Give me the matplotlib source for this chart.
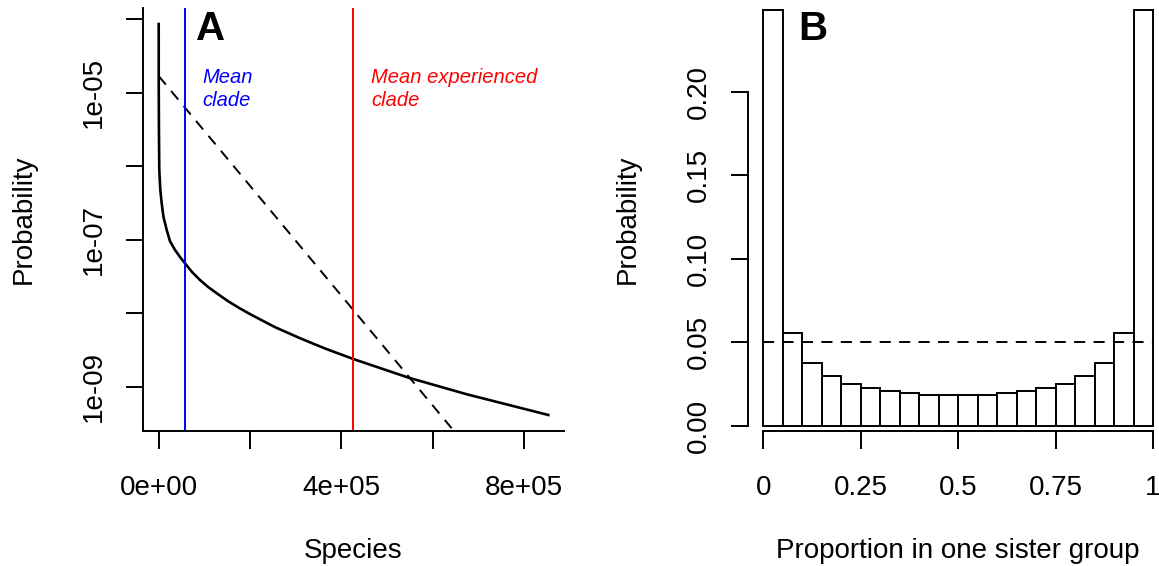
import numpy as np
import matplotlib.pyplot as plt
from matplotlib.ticker import NullLocator

plt.rcParams['font.family'] = ['Liberation Sans', 'DejaVu Sans']
plt.rcParams['lines.scale_dashes'] = False

# Panel A - clade size distribution
species = [1, 100, 500, 1300, 3500, 6560, 10500, 17500, 24700, 35700, 46600,
           57500, 72900, 90400, 107900, 126900, 151600, 177900, 203500, 254500,
           309200, 364000, 425800, 546200, 673900, 852500]
prob = [8.63e-5, 1.26e-5, 3.16e-6, 8.9e-7, 4.79e-7, 3.13e-7, 2.04e-7, 1.36e-7,
        9.55e-8, 7.26e-8, 5.82e-8, 4.78e-8, 3.64e-8, 2.83e-8, 2.28e-8, 1.87e-8,
        1.46e-8, 1.16e-8, 9.46e-9, 6.46e-9, 4.57e-9, 3.31e-9, 2.38e-9, 1.33e-9,
        7.89e-10, 4.12e-10]
exp_species = [0, 641000]
exp_prob = [1.69e-5, 2.72e-10]
mean_clade = 57500
mean_exp_clade = 425800
a_xticks = [0, 2e5, 4e5, 6e5, 8e5]
a_xticklabels = ['0e+00', '', '4e+05', '', '8e+05']
a_yticks = [1e-4, 1e-5, 1e-6, 1e-7, 1e-8, 1e-9]
a_yticklabels = ['', '1e-05', '', '1e-07', '', '1e-09']

# Panel B - proportion in one sister group
bin_edges = np.linspace(0, 1, 21)
freq = [0.249, 0.0557, 0.0378, 0.0298, 0.0253, 0.0227, 0.0209, 0.0197, 0.0187, 0.0187,
        0.0187, 0.0187, 0.0197, 0.0209, 0.0227, 0.0253, 0.0298, 0.0378, 0.0557, 0.249]
uniform = 0.05
b_xticks = [0, 0.25, 0.5, 0.75, 1]
b_xticklabels = ['0', '0.25', '0.5', '0.75', '1']
b_yticks = [0, 0.05, 0.10, 0.15, 0.20]
b_yticklabels = ['0.00', '0.05', '0.10', '0.15', '0.20']

W, H = 1159, 566
fig = plt.figure(figsize=(W / 100, H / 100), dpi=100)

def box(x0, y0, x1, y1):
    return [x0 / W, 1 - y1 / H, (x1 - x0) / W, (y1 - y0) / H]

lw = 1.4
fs = 20

#%% A
ax = fig.add_axes(box(142.7, 8, 564, 430.7))
ax.plot(species, prob, color='black', lw=1.9, solid_joinstyle='round')
ax.plot(exp_species, exp_prob, color='black', lw=1.4, dashes=(8, 6))
ax.axvline(mean_clade, color='#0000ff', lw=1.4)
ax.axvline(mean_exp_clade, color='#ff0000', lw=1.4)
ax.set_yscale('log')
ax.set_xlim(-35010, 886870)
ax.set_ylim(10 ** -9.599, 10 ** -3.846)
ax.set_xticks(a_xticks)
ax.set_xticklabels(a_xticklabels)
ax.set_yticks(a_yticks)
ax.set_yticklabels(a_yticklabels, rotation=90, va='center')
ax.yaxis.set_minor_locator(NullLocator())
for s in ['top', 'right']:
    ax.spines[s].set_visible(False)
for s in ['left', 'bottom']:
    ax.spines[s].set_linewidth(lw)
ax.tick_params(axis='x', length=12.6, width=lw, labelsize=fs, pad=19)
ax.tick_params(axis='y', length=12.6, width=lw, labelsize=fs, pad=13.5)
ax.set_xlabel('Species', fontsize=fs)
ax.xaxis.label.set_verticalalignment('baseline')
ax.xaxis.set_label_coords(0.5, -(558 - 430.7) / 422.7)
ax.set_ylabel('Probability', fontsize=fs)
ax.yaxis.label.set_verticalalignment('center')
ax.yaxis.set_label_coords((23.5 - 142.7) / 421.3, 0.5)

fig.text(196 / W, 1 - 40 / H, 'A', fontsize=29, fontweight='bold', va='baseline')
for i, line in enumerate(['Mean', 'clade']):
    fig.text(202.7 / W, 1 - (82.7 + 23.3 * i) / H, line, color='#0000ff',
             fontsize=14.5, style='italic', va='baseline')
for i, line in enumerate(['Mean experienced', 'clade']):
    fig.text(371 / W, 1 - (82.7 + 23.3 * i) / H, line, color='#ff0000',
             fontsize=14.5, style='italic', va='baseline')

#%% B
bx = fig.add_axes(box(748.3, 8, 1168, 430.7))
bx.bar(bin_edges[:-1], freq, width=np.diff(bin_edges), align='edge',
       facecolor='white', edgecolor='black', linewidth=lw)
bx.hlines(uniform, 0, 1, color='black', lw=1.4, linestyles=[(0, (8, 6))])
bx.set_xlim(-0.0385, 1.0385)
bx.set_ylim(-0.0028, 0.2500)
bx.set_xticks(b_xticks)
bx.set_xticklabels(b_xticklabels)
bx.set_yticks(b_yticks)
bx.set_yticklabels(b_yticklabels, rotation=90, va='center')
for s in ['top', 'right']:
    bx.spines[s].set_visible(False)
for s in ['left', 'bottom']:
    bx.spines[s].set_linewidth(lw)
bx.spines['left'].set_bounds(0, 0.20)
bx.spines['bottom'].set_bounds(0, 1)
bx.tick_params(axis='x', length=12.6, width=lw, labelsize=fs, pad=19)
bx.tick_params(axis='y', length=12.6, width=lw, labelsize=fs, pad=13.5)
bx.set_xlabel('Proportion in one sister group', fontsize=fs)
bx.xaxis.label.set_verticalalignment('baseline')
bx.xaxis.set_label_coords(0.5, -(558 - 430.7) / 422.7)
bx.set_ylabel('Probability', fontsize=fs)
bx.yaxis.label.set_verticalalignment('center')
bx.yaxis.set_label_coords((628 - 748.3) / 419.7, 0.5)

fig.text(798 / W, 1 - 40.5 / H, 'B', fontsize=29, fontweight='bold', va='baseline')

plt.savefig('out.png', dpi=100)
